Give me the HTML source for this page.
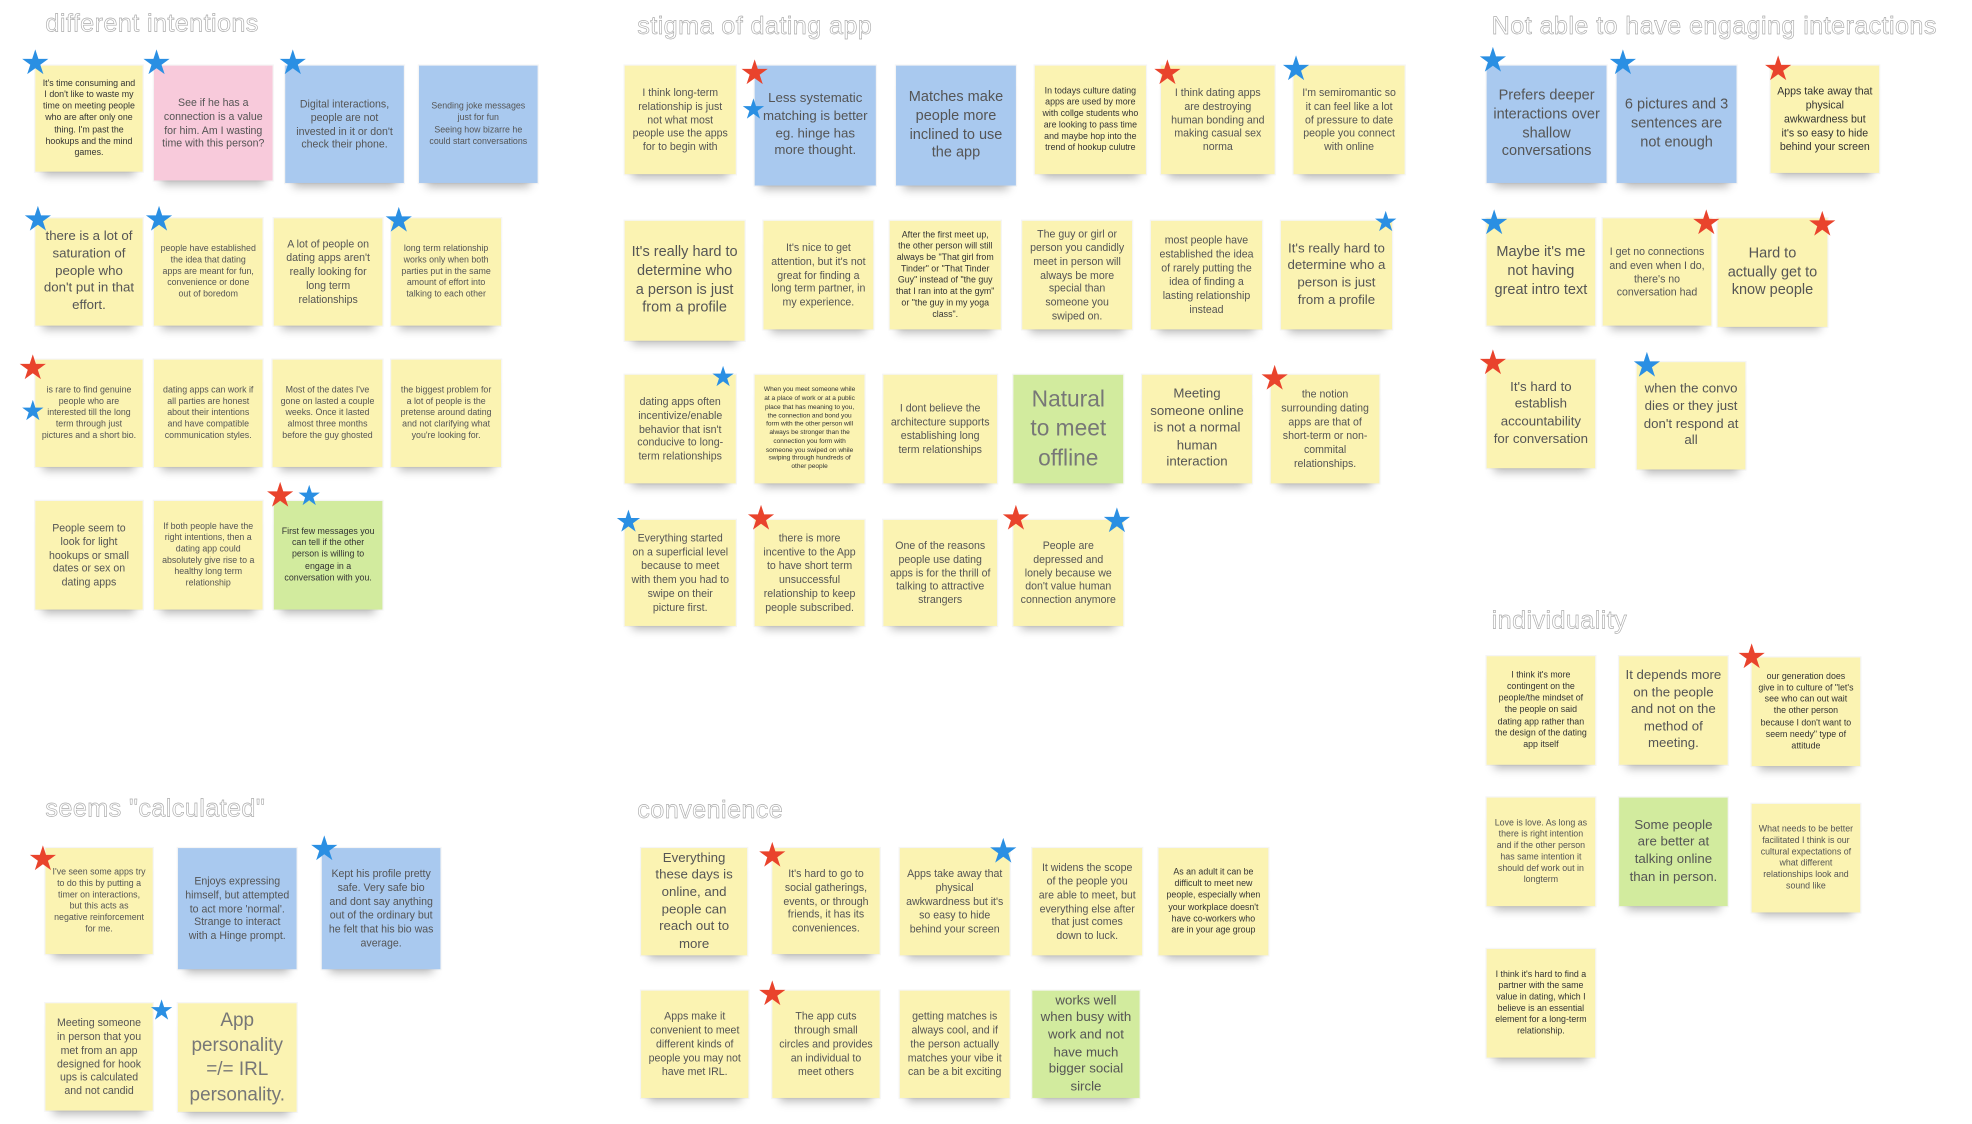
<!DOCTYPE html>
<html><head><meta charset="utf-8"><style>
html,body{margin:0;padding:0;background:#fff;}
body{width:1972px;height:1124px;overflow:hidden;position:relative;}
#c{position:absolute;left:0;top:0;width:1563px;height:891px;transform:scale(1.262);transform-origin:0 0;font-family:"Liberation Sans",sans-serif;}
.t{position:absolute;font-size:20px;color:#fff;-webkit-text-stroke:0.5px #aaa;letter-spacing:0.3px;white-space:nowrap;}
.n{position:absolute;display:flex;align-items:center;justify-content:center;text-align:center;box-sizing:border-box;padding:3px 5px;color:#555;line-height:1.3;box-shadow:0 9px 7px -6px rgba(0,0,0,.28),0 0 0 1px rgba(0,0,0,.04);}
.y{background:#fbf3b2;}.p{background:#f8cadb;}.b{background:#a9c9ef;}.g{background:#d2eb9e;}
.s{font-size:7px;}.m{font-size:8.4px;}.l{font-size:10.5px;}.xl{font-size:11.5px;}.xxl{font-size:15px;}
.st{position:absolute;font-family:"DejaVu Sans",sans-serif;font-size:27px;line-height:1;transform:translate(-50%,-50%);}
.bs{color:#2a8fe3;}.rs{color:#e9432c;}
.d{color:#333;}
</style></head><body><div id="c">

<div class="t" style="left:36px;top:8px">different intentions</div>
<div class="n y s d" style="left:28px;top:52px;width:85px;height:84px">It's time consuming and I don't like to waste my time on meeting people who are after only one thing. I'm past the hookups and the mind games.</div>
<div class="n p m" style="left:122px;top:52px;width:94px;height:91px">See if he has a connection is a value for him. Am I wasting time with this person?</div>
<div class="n b m" style="left:226px;top:52px;width:94px;height:93px">Digital interactions, people are not invested in it or don't check their phone.</div>
<div class="n b s" style="left:332px;top:52px;width:94px;height:93px">Sending joke messages just for fun<br>Seeing how bizarre he could start conversations</div>
<div class="st bs" style="left:28px;top:50px">★</div><div class="st bs" style="left:124px;top:50px">★</div><div class="st bs" style="left:232px;top:50px">★</div>

<div class="n y l" style="left:28px;top:173px;width:85px;height:85px">there is a lot of saturation of people who don't put in that effort.</div>
<div class="n y s" style="left:122px;top:173px;width:86px;height:85px">people have established the idea that dating apps are meant for fun, convenience or done out of boredom</div>
<div class="n y m" style="left:217px;top:173px;width:86px;height:85px">A lot of people on dating apps aren't really looking for long term relationships</div>
<div class="n y s" style="left:310px;top:173px;width:87px;height:85px">long term relationship works only when both parties put in the same amount of effort into talking to each other</div>
<div class="st bs" style="left:30px;top:174px">★</div><div class="st bs" style="left:126px;top:174px">★</div><div class="st bs" style="left:316px;top:175px">★</div>

<div class="n y s" style="left:28px;top:285px;width:85px;height:85px">is rare to find genuine people who are interested till the long term through just pictures and a short bio.</div>
<div class="n y s" style="left:122px;top:285px;width:86px;height:85px">dating apps can work if all parties are honest about their intentions and have compatible communication styles.</div>
<div class="n y s" style="left:216px;top:285px;width:87px;height:85px">Most of the dates I've gone on lasted a couple weeks. Once it lasted almost three months before the guy ghosted</div>
<div class="n y s" style="left:310px;top:285px;width:87px;height:85px">the biggest problem for a lot of people is the pretense around dating and not clarifying what you're looking for.</div>
<div class="st rs" style="left:26px;top:292px">★</div><div class="st bs" style="left:26px;top:327px;font-size:22px">★</div>

<div class="n y m" style="left:28px;top:397px;width:85px;height:86px">People seem to look for light hookups or small dates or sex on dating apps</div>
<div class="n y s" style="left:122px;top:397px;width:86px;height:86px">If both people have the right intentions, then a dating app could absolutely give rise to a healthy long term relationship</div>
<div class="n g s d" style="left:217px;top:397px;width:86px;height:86px">First few messages you can tell if the other person is willing to engage in a conversation with you.</div>
<div class="st rs" style="left:222px;top:393px">★</div><div class="st bs" style="left:245px;top:394px;font-size:22px">★</div>

<div class="t" style="left:505px;top:10px">stigma of dating app</div>
<div class="n y m" style="left:495px;top:52px;width:88px;height:86px">I think long-term relationship is just not what most people use the apps for to begin with</div>
<div class="n b l" style="left:598px;top:52px;width:96px;height:95px">Less systematic matching is better eg. hinge has more thought.</div>
<div class="n b xl" style="left:710px;top:52px;width:95px;height:95px">Matches make people more inclined to use the app</div>
<div class="n y s d" style="left:820px;top:52px;width:88px;height:86px">In todays culture dating apps are used by more with collge students who are looking to pass time and maybe hop into the trend of hookup culutre</div>
<div class="n y m" style="left:920px;top:52px;width:90px;height:86px">I think dating apps are destroying human bonding and making casual sex norma</div>
<div class="n y m" style="left:1025px;top:52px;width:88px;height:86px">I'm semiromantic so it can feel like a lot of pressure to date people you connect with online</div>
<div class="st rs" style="left:598px;top:58px">★</div><div class="st bs" style="left:597px;top:88px;font-size:22px">★</div><div class="st rs" style="left:925px;top:58px">★</div><div class="st bs" style="left:1027px;top:55px">★</div>

<div class="n y xl" style="left:495px;top:175px;width:95px;height:95px">It's really hard to determine who a person is just from a profile</div>
<div class="n y m" style="left:605px;top:175px;width:87px;height:86px">It's nice to get attention, but it's not great for finding a long term partner, in my experience.</div>
<div class="n y s d" style="left:705px;top:175px;width:88px;height:86px">After the first meet up, the other person will still always be "That girl from Tinder" or "That Tinder Guy" instead of "the guy that I ran into at the gym" or "the guy in my yoga class".</div>
<div class="n y m" style="left:810px;top:175px;width:87px;height:86px">The guy or girl or person you candidly meet in person will always be more special than someone you swiped on.</div>
<div class="n y m" style="left:912px;top:175px;width:88px;height:86px">most people have established the idea of rarely putting the idea of finding a lasting relationship instead</div>
<div class="n y l" style="left:1015px;top:175px;width:88px;height:86px">It's really hard to determine who a person is just from a profile</div>
<div class="st bs" style="left:1098px;top:177px;font-size:22px">★</div>

<div class="n y m" style="left:495px;top:297px;width:88px;height:86px">dating apps often incentivize/enable behavior that isn't conducive to long-term relationships</div>
<div class="n y s d" style="left:598px;top:297px;width:87px;height:86px;font-size:5.2px">When you meet someone while at a place of work or at a public place that has meaning to you, the connection and bond you form with the other person will always be stronger than the connection you form with someone you swiped on while swiping through hundreds of other people</div>
<div class="n y m" style="left:700px;top:297px;width:90px;height:86px">I dont believe the architecture supports establishing long term relationships</div>
<div class="n g xxl" style="left:803px;top:297px;width:87px;height:86px;color:#777;font-size:18px">Natural to meet offline</div>
<div class="n y l" style="left:905px;top:297px;width:87px;height:86px">Meeting someone online is not a normal human interaction</div>
<div class="n y m" style="left:1007px;top:297px;width:86px;height:86px">the notion surrounding dating apps are that of short-term or non-commital relationships.</div>
<div class="st bs" style="left:573px;top:300px;font-size:22px">★</div><div class="st rs" style="left:1010px;top:300px">★</div>

<div class="n y m" style="left:495px;top:412px;width:88px;height:84px">Everything started on a superficial level because to meet with them you had to swipe on their picture first.</div>
<div class="n y m" style="left:598px;top:412px;width:87px;height:84px">there is more incentive to the App to have short term unsuccessful relationship to keep people subscribed.</div>
<div class="n y m" style="left:700px;top:412px;width:90px;height:84px">One of the reasons people use dating apps is for the thrill of talking to attractive strangers</div>
<div class="n y m" style="left:803px;top:412px;width:87px;height:84px">People are depressed and lonely because we don't value human connection anymore</div>
<div class="st bs" style="left:498px;top:413px;font-size:24px">★</div><div class="st rs" style="left:603px;top:411px">★</div><div class="st rs" style="left:805px;top:411px">★</div><div class="st bs" style="left:885px;top:413px">★</div>

<div class="t" style="left:1182px;top:10px">Not able to have engaging interactions</div>
<div class="n b xl" style="left:1178px;top:52px;width:95px;height:93px">Prefers deeper interactions over shallow conversations</div>
<div class="n b xl" style="left:1281px;top:52px;width:95px;height:93px">6 pictures and 3 sentences are not enough</div>
<div class="n y m d" style="left:1403px;top:52px;width:86px;height:85px">Apps take away that physical awkwardness but it's so easy to hide behind your screen</div>
<div class="st bs" style="left:1183px;top:48px">★</div><div class="st bs" style="left:1286px;top:50px">★</div><div class="st rs" style="left:1409px;top:55px">★</div>

<div class="n y xl" style="left:1178px;top:173px;width:86px;height:85px">Maybe it's me not having great intro text</div>
<div class="n y m" style="left:1270px;top:173px;width:86px;height:85px">I get no connections and even when I do, there's no conversation had</div>
<div class="n y xl" style="left:1361px;top:173px;width:87px;height:86px">Hard to actually get to know people</div>
<div class="st bs" style="left:1184px;top:177px">★</div><div class="st rs" style="left:1352px;top:177px">★</div><div class="st rs" style="left:1444px;top:178px">★</div>

<div class="n y l" style="left:1178px;top:285px;width:86px;height:86px">It's hard to establish accountability for conversation</div>
<div class="n y l" style="left:1297px;top:287px;width:86px;height:85px">when the convo dies or they just don't respond at all</div>
<div class="st rs" style="left:1183px;top:288px">★</div><div class="st bs" style="left:1305px;top:290px">★</div>

<div class="t" style="left:1182px;top:481px">individuality</div>
<div class="n y s d" style="left:1178px;top:520px;width:86px;height:86px">I think it's more contingent on the people/the mindset of the people on said dating app rather than the design of the dating app itself</div>
<div class="n y l" style="left:1283px;top:520px;width:86px;height:86px">It depends more on the people and not on the method of meeting.</div>
<div class="n y s d" style="left:1388px;top:521px;width:86px;height:86px">our generation does give in to culture of "let's see who can out wait the other person because I don't want to seem needy" type of attitude</div>
<div class="st rs" style="left:1388px;top:521px">★</div>
<div class="n y s" style="left:1178px;top:632px;width:86px;height:86px">Love is love. As long as there is right intention and if the other person has same intention it should def work out in longterm</div>
<div class="n g l" style="left:1283px;top:632px;width:86px;height:86px">Some people are better at talking online than in person.</div>
<div class="n y s" style="left:1388px;top:637px;width:86px;height:86px">What needs to be better facilitated I think is our cultural expectations of what different relationships look and sound like</div>
<div class="n y s d" style="left:1178px;top:752px;width:86px;height:86px">I think it's hard to find a partner with the same value in dating, which I believe is an essential element for a long-term relationship.</div>

<div class="t" style="left:36px;top:630px">seems "calculated"</div>
<div class="n y s" style="left:36px;top:672px;width:85px;height:84px">I've seen some apps try to do this by putting a timer on interactions, but this acts as negative reinforcement for me.</div>
<div class="n b m" style="left:141px;top:672px;width:94px;height:96px">Enjoys expressing himself, but attempted to act more 'normal'. Strange to interact with a Hinge prompt.</div>
<div class="n b m" style="left:255px;top:672px;width:94px;height:96px">Kept his profile pretty safe. Very safe bio and dont say anything out of the ordinary but he felt that his bio was average.</div>
<div class="st rs" style="left:34px;top:681px">★</div><div class="st bs" style="left:257px;top:673px">★</div>
<div class="n y m" style="left:36px;top:795px;width:85px;height:85px">Meeting someone in person that you met from an app designed for hook ups is calculated and not candid</div>
<div class="n y xxl" style="left:141px;top:795px;width:94px;height:86px;color:#777">App personality =/= IRL personality.</div>
<div class="st bs" style="left:128px;top:802px;font-size:22px">★</div>

<div class="t" style="left:505px;top:631px">convenience</div>
<div class="n y l" style="left:508px;top:672px;width:84px;height:85px">Everything these days is online, and people can reach out to more</div>
<div class="n y m" style="left:612px;top:672px;width:85px;height:84px">It's hard to go to social gatherings, events, or through friends, it has its conveniences.</div>
<div class="n y m" style="left:713px;top:672px;width:87px;height:85px">Apps take away that physical awkwardness but it's so easy to hide behind your screen</div>
<div class="n y m" style="left:818px;top:672px;width:87px;height:85px">It widens the scope of the people you are able to meet, but everything else after that just comes down to luck.</div>
<div class="n y s d" style="left:918px;top:672px;width:87px;height:85px">As an adult it can be difficult to meet new people, especially when your workplace doesn't have co-workers who are in your age group</div>
<div class="st rs" style="left:612px;top:678px">★</div><div class="st bs" style="left:795px;top:675px">★</div>
<div class="n y m" style="left:508px;top:785px;width:85px;height:85px">Apps make it convenient to meet different kinds of people you may not have met IRL.</div>
<div class="n y m" style="left:612px;top:785px;width:85px;height:85px">The app cuts through small circles and provides an individual to meet others</div>
<div class="n y m" style="left:713px;top:785px;width:87px;height:85px">getting matches is always cool, and if the person actually matches your vibe it can be a bit exciting</div>
<div class="n g l" style="left:818px;top:785px;width:85px;height:85px">works well when busy with work and not have much bigger social sircle</div>
<div class="st rs" style="left:612px;top:788px">★</div>

</div></body></html>
